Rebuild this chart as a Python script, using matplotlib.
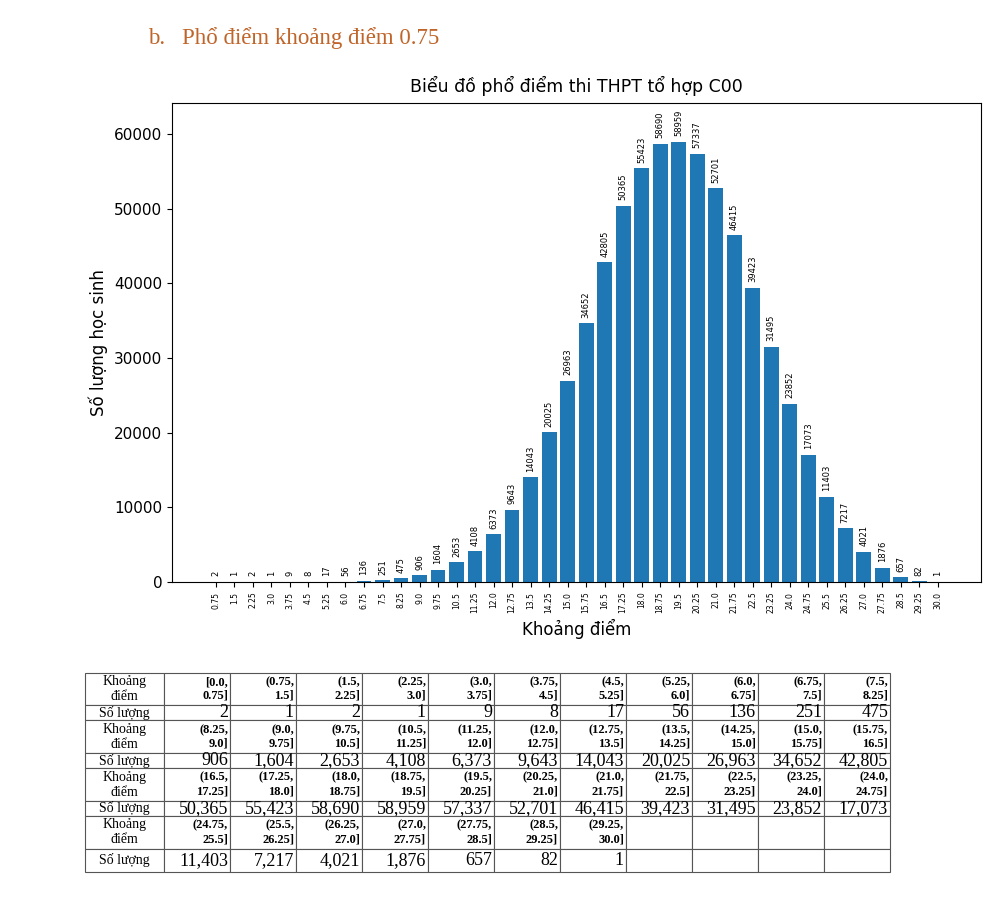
import matplotlib.pyplot as plt

# bins of 0.75 points, right edges
bin_edges = [0.0, 0.75, 1.5, 2.25, 3.0, 3.75, 4.5, 5.25, 6.0, 6.75, 7.5, 8.25, 9.0, 9.75,
             10.5, 11.25, 12.0, 12.75, 13.5, 14.25, 15.0, 15.75, 16.5, 17.25, 18.0, 18.75,
             19.5, 20.25, 21.0, 21.75, 22.5, 23.25, 24.0, 24.75, 25.5, 26.25, 27.0, 27.75,
             28.5, 29.25, 30.0]
counts = [2, 1, 2, 1, 9, 8, 17, 56, 136, 251, 475, 906, 1604, 2653, 4108, 6373, 9643,
          14043, 20025, 26963, 34652, 42805, 50365, 55423, 58690, 58959, 57337, 52701,
          46415, 39423, 31495, 23852, 17073, 11403, 7217, 4021, 1876, 657, 82, 1]

title = "Biểu đồ phổ điểm thi THPT tổ hợp C00"
xlabel = "Khoảng điểm"
ylabel = "Số lượng học sinh"
heading_num = "b."
heading = "Phổ điểm khoảng điểm 0.75"
row_lab_bin = "Khoảng\nđiểm"
row_lab_cnt = "Số lượng"

xs = bin_edges[1:]

fig = plt.figure(figsize=(10, 9.17), dpi=100)

# heading like in the word document
fig.text(0.148, 0.958, heading_num, fontsize=16.5, family="Liberation Serif",
         color="#c0652a", va="center")
fig.text(0.182, 0.958, heading, fontsize=16.5, family="Liberation Serif",
         color="#c0652a", va="center")

ax = fig.add_axes([0.172, 0.3653, 0.809, 0.5224])
bars = ax.bar(xs, counts, width=0.6, color="#1f77b4")
for x, c in zip(xs, counts):
    ax.annotate(str(c), (x, c), xytext=(0, 4), textcoords="offset points",
                ha="center", va="bottom", rotation=90, fontsize=6)
ax.set_xticks(xs)
ax.set_xticklabels([str(x) for x in xs], rotation=90, fontsize=5.5)
ax.tick_params(axis="y", labelsize=11)
ax.set_xlim(-1.03, 31.75)
ax.set_ylim(0, 64150)
ax.set_title(title, fontsize=12.5, pad=8)
ax.set_xlabel(xlabel, fontsize=12)
ax.set_ylabel(ylabel, fontsize=12)

# table under the chart
ncol = 11
cells = []
for r in range(4):
    lab_row = [row_lab_bin]
    cnt_row = [row_lab_cnt]
    for k in range(ncol):
        i = r * ncol + k
        if i < len(counts):
            lo, hi = bin_edges[i], bin_edges[i + 1]
            br = "[" if i == 0 else "("
            lab_row.append(f"{br}{lo},\n{hi}]")
            cnt_row.append(f"{counts[i]:,}")
        else:
            lab_row.append("")
            cnt_row.append("")
    cells.append(lab_row)
    cells.append(cnt_row)

tax = fig.add_axes([0.085, 0.0491, 0.805, 0.217])
tax.axis("off")
tbl = tax.table(cellText=cells, bbox=[0, 0, 1, 1], cellLoc="right")
tbl.auto_set_font_size(False)
row_h = [32, 15, 33, 15, 32, 15, 33, 23]
for (r, c), cell in tbl.get_celld().items():
    cell.set_height(row_h[r])
    cell.set_width(79 if c == 0 else 66)
    cell.set_edgecolor("#555555")
    cell.set_linewidth(0.8)
    t = cell.get_text()
    t.set_family("Liberation Serif")
    if c == 0:
        t.set_ha("center")
        cell._loc = "center"
        t.set_fontsize(10)
    elif r % 2 == 0:
        t.set_fontsize(9)
        t.set_weight("bold")
        t.set_multialignment("right")
    else:
        t.set_fontsize(13)
    cell.PAD = 0.03

fig.savefig("out.png", dpi=100)
